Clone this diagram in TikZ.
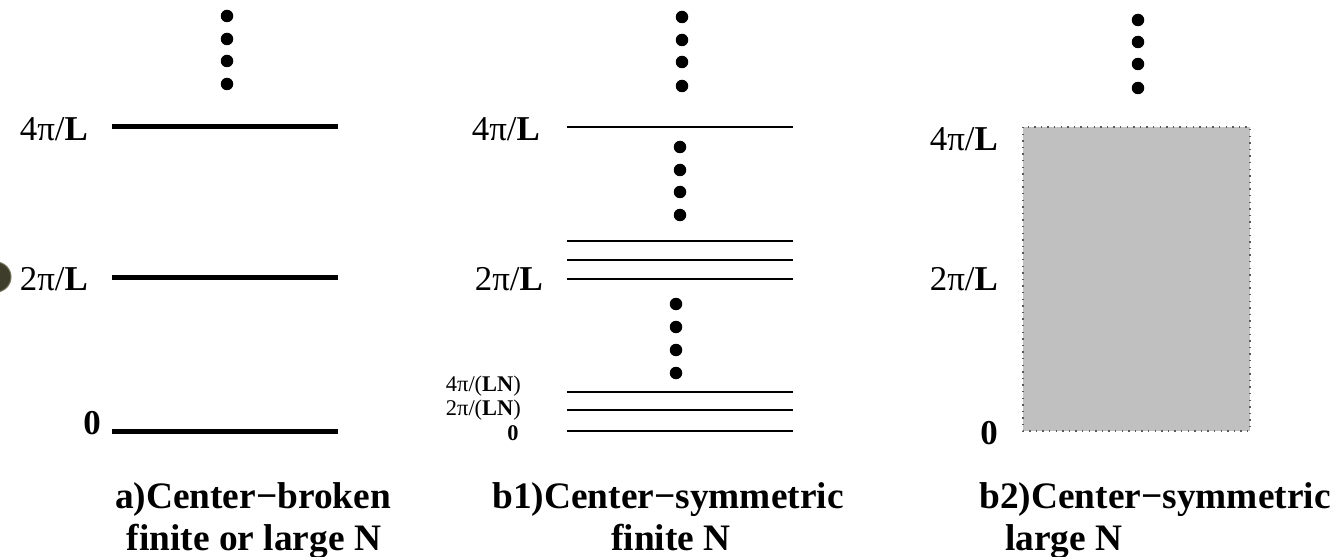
\documentclass[tikz,border=0pt]{standalone}
\usepackage{fontspec}
\setmainfont{Liberation Serif}
\begin{document}
\begin{tikzpicture}[x=1bp,y=-1bp,
  lab/.style={inner sep=0pt,anchor=east,font=\fontsize{35}{38}\selectfont},
  smalllab/.style={inner sep=0pt,anchor=east,font=\fontsize{22.5}{24}\selectfont},
  captext/.style={inner sep=0pt,anchor=base,align=center,font=\fontsize{37.5}{41}\selectfont\bfseries},
  thicklevel/.style={line width=5bp},
  thinlevel/.style={line width=1.6bp},
  vdot/.style={circle,fill=black,inner sep=0pt,minimum size=12.5bp}]
\useasboundingbox (0,0) rectangle (1339,557);
% stray marker at left edge
\fill[fill={rgb,255:red,62;green,60;blue,42},draw={rgb,255:red,120;green,118;blue,95},line width=1bp] (-4,277) circle (15);
% ---------- a) ----------
\foreach \i/\yy in {1/16,2/39,3/61,4/84} \node[vdot] (ad\i) at (227,\yy) {};
\draw[thicklevel] (112,127) -- (338,127);
\draw[thicklevel] (112,277) -- (338,277);
\draw[thicklevel] (112,431) -- (338,431);
\node[lab] (a4) at (88,129) {4π/\textbf{L}};
\node[lab] (a2) at (88,279) {2π/\textbf{L}};
\node[lab] (a0) at (101,423) {\textbf{0}};
\node[captext] (capa1) at (253,508) {a)Center\textminus broken};
\node[captext] (capa2) at (254,550) {finite or large N};
% ---------- b1) ----------
\foreach \i/\yy in {1/17,2/40,3/62,4/86} \node[vdot] (bt\i) at (682,\yy) {};
\foreach \i/\yy in {1/147,2/170,3/192,4/215} \node[vdot] (bm\i) at (680,\yy) {};
\foreach \i/\yy in {1/304,2/327,3/350,4/373} \node[vdot] (bl\i) at (676,\yy) {};
\foreach \yy in {127,241,260,279,392,410,431} \draw[thinlevel] (567,\yy) -- (793,\yy);
\node[lab] (b4) at (540,129) {4π/\textbf{L}};
\node[lab] (b2) at (543,279) {2π/\textbf{L}};
\node[smalllab] (b4n) at (521,386) {4π/(\textbf{LN})};
\node[smalllab] (b2n) at (521,410) {2π/(\textbf{LN})};
\node[smalllab,anchor=center] (b0n) at (513,433) {\textbf{0}};
\node[captext] (capb1) at (668,508) {b1)Center\textminus symmetric};
\node[captext] (capb2) at (671,550) {finite N};
% ---------- b2) ----------
\foreach \i/\yy in {1/20,2/42,3/64,4/88} \node[vdot] (ct\i) at (1138,\yy) {};
\fill[fill={rgb,255:red,192;green,192;blue,192}] (1023,127) rectangle (1250,431);
\draw[draw={rgb,255:red,90;green,90;blue,90},line width=1.4bp,dash pattern=on 1.4bp off 5.2bp] (1023,127) rectangle (1250,431);
\node[lab] (c4) at (998,139) {4π/\textbf{L}};
\node[lab] (c2) at (998,279) {2π/\textbf{L}};
\node[lab] (c0) at (998,433) {\textbf{0}};
\node[captext] (capc1) at (1155,508) {b2)Center\textminus symmetric};
\node[captext,anchor=base west] (capc2) at (1005,550) {large N};
\end{tikzpicture}
\end{document}
